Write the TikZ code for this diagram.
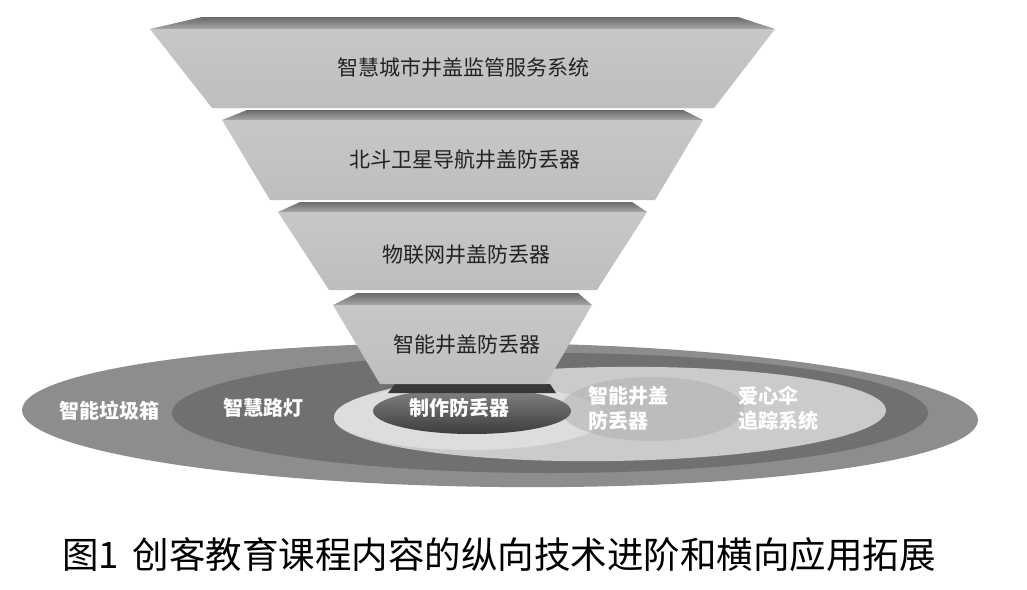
\documentclass[tikz,border=0pt]{standalone}
\usepackage{fontspec}
\newfontfamily\cjk{Noto Sans CJK SC}
\definecolor{outerc}{HTML}{8D8D8D}
\definecolor{ringc}{HTML}{707070}
\definecolor{lightc}{HTML}{CBCBCB}
\definecolor{haloc}{HTML}{DDDDDD}
\definecolor{blobc}{HTML}{B0B0B0}
\definecolor{darkA}{HTML}{858585}
\definecolor{darkB}{HTML}{3C3C3C}
\definecolor{bandc}{HTML}{383838}
\definecolor{topA}{HTML}{6A6A6A}
\definecolor{topB}{HTML}{A6A6A6}
\definecolor{frontA}{HTML}{C7C7C7}
\definecolor{frontB}{HTML}{BEBEBE}
\definecolor{txtdark}{HTML}{222222}
\begin{document}
\begin{tikzpicture}[x=1pt,y=-1pt,
  topface/.style={top color=topA, bottom color=topB},
  frontface/.style={top color=frontA, bottom color=frontB},
  funtext/.style={font=\cjk\fontsize{21}{21}\selectfont, text=txtdark, inner sep=0pt},
  lab/.style={font=\cjk\bfseries\fontsize{20}{25}\selectfont, text=white, inner sep=0pt, align=left},
  captext/.style={font=\cjk\fontsize{36.5}{36.5}\selectfont, text=black, inner sep=0pt}]
\useasboundingbox (0,0) rectangle (1027,589);
\fill[white] (0,0) rectangle (1027,589);
% ellipses
\fill[outerc, rotate around={-0.6:(500,415)}] (500,415) ellipse [x radius=478pt, y radius=72pt];
\fill[ringc] (550,413) ellipse [x radius=378pt, y radius=60pt];
\fill[lightc, rotate around={0.8:(610,414)}] (610,414) ellipse [x radius=276pt, y radius=47pt];
\fill[haloc] (470,417) ellipse [x radius=136pt, y radius=33pt];
\fill[blobc, opacity=0.55] (652,409) ellipse [x radius=92pt, y radius=32pt];
\shade[top color=darkA, bottom color=darkB] (472,411) ellipse [x radius=99pt, y radius=23pt];
\fill[bandc] (395,384) -- (550,384) -- (556,393) -- (388,393) -- cycle;
% funnel layer 1
\shade[topface] (150,29) -- (202,17) -- (738,17) -- (775,29) -- cycle;
\shade[frontface] (150,29) -- (775,29) -- (714,108) -- (212,108) -- cycle;
% layer 2
\shade[topface] (222,120) -- (247,110) -- (683,110) -- (703,120) -- cycle;
\shade[frontface] (222,120) -- (703,120) -- (655,200) -- (270,200) -- cycle;
% layer 3
\shade[topface] (278,212) -- (300,202) -- (632,202) -- (647,212) -- cycle;
\shade[frontface] (278,212) -- (647,212) -- (597,290) -- (329,290) -- cycle;
% layer 4
\shade[topface] (333,305) -- (357,293) -- (578,293) -- (592,305) -- cycle;
\shade[frontface] (333,305) -- (592,305) -- (546,384) -- (380,384) -- cycle;
% funnel texts
\node[funtext] (f1) at (463,68) {智慧城市井盖监管服务系统};
\node[funtext] (f2) at (465,160) {北斗卫星导航井盖防丢器};
\node[funtext] (f3) at (466,255) {物联网井盖防丢器};
\node[funtext] (f4) at (467,345) {智能井盖防丢器};
% ellipse labels
\node[lab] (e1) at (109,411) {智能垃圾箱};
\node[lab] (e2) at (263,408) {智慧路灯};
\node[lab] (e3) at (459,408) {制作防丢器};
\node[lab, anchor=west] (e4) at (588,408.5) {智能井盖\\防丢器};
\node[lab, anchor=west] (e5) at (738,408) {爱心伞\\追踪系统};
% caption
\node[captext, anchor=west] (cap) at (62,555) {图1\hspace{14pt}创客教育课程内容的纵向技术进阶和横向应用拓展};
\end{tikzpicture}
\end{document}
